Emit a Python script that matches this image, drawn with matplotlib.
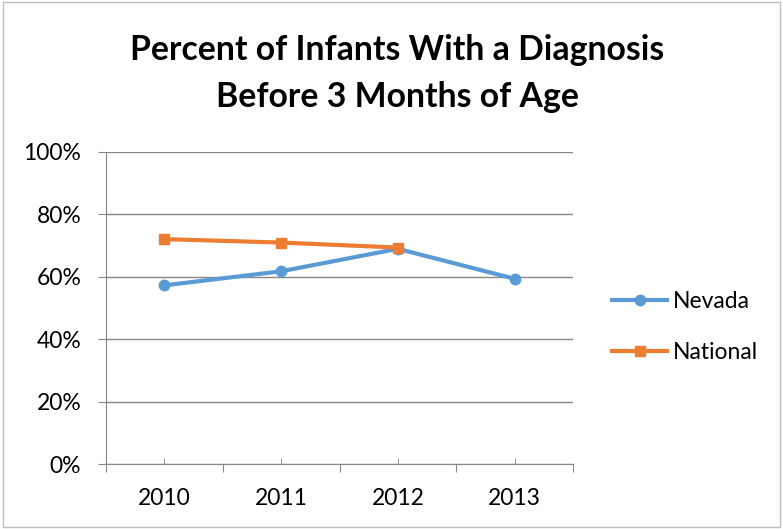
import matplotlib
matplotlib.use("Agg")
import matplotlib.pyplot as plt
from matplotlib.patches import Rectangle
from matplotlib.ticker import FuncFormatter

years = ["2010", "2011", "2012", "2013"]
nevada = [57.3, 61.8, 69.0, 59.4]
national = [72.1, 71.0, 69.4]
yticks = [0, 20, 40, 60, 80, 100]

plt.rcParams['font.family'] = ['Lato', 'DejaVu Sans']

fig = plt.figure(figsize=(7.83, 5.29), dpi=100)
ax = fig.add_axes([106/783, 1-464.3/529, (573-106)/783, (464.3-152)/529])

x = list(range(len(years)))
ax.plot(x, nevada, color='#5B9BD5', lw=3.0, marker='o', ms=7.5, label='Nevada')
ax.plot(x[:len(national)], national, color='#ED7D31', lw=3.0, marker='s', ms=7, label='National')

ax.set_xlim(-0.5, 3.5)
ax.set_ylim(0, 100)
ax.set_yticks(yticks)
ax.yaxis.set_major_formatter(FuncFormatter(lambda v, p: f"{int(v)}%"))
ax.grid(axis='y', color='#868686', lw=1)
ax.set_axisbelow(True)
for s in ['top', 'right']:
    ax.spines[s].set_visible(False)
ax.spines['left'].set_color('#868686')
ax.spines['bottom'].set_color('#868686')
ax.tick_params(axis='y', length=5.8, color='#868686', labelsize=16.5, pad=12)

# x ticks: boundaries outward, labels at centers
ax.set_xticks([-0.5, 0.5, 1.5, 2.5, 3.5])
ax.set_xticklabels([])
ax.tick_params(axis='x', which='major', length=6, color='#868686', direction='out')
ax.set_xticks(x, minor=True)
ax.set_xticklabels(years, minor=True)
ax.tick_params(axis='x', which='minor', length=4, color='#868686', direction='in',
               labelsize=16.5, pad=17)

fig.text(397/783, 1 - 50/529, "Percent of Infants With a Diagnosis",
         ha='center', va='center', fontsize=24.3, fontweight='bold')
fig.text(397/783, 1 - 97/529, "Before 3 Months of Age",
         ha='center', va='center', fontsize=24.3, fontweight='bold')

ax.legend(loc='center left', bbox_to_anchor=(1.04, 0.44), frameon=False, fontsize=16.5,
          handlelength=2.4, labelspacing=1.3, handletextpad=0.25)

fig.patches.append(Rectangle((3/783, 2/529), 1-6/783, 1-4/529, transform=fig.transFigure,
                             fill=False, edgecolor='#BFBFBF', lw=1))

fig.savefig("out.png", dpi=100)
